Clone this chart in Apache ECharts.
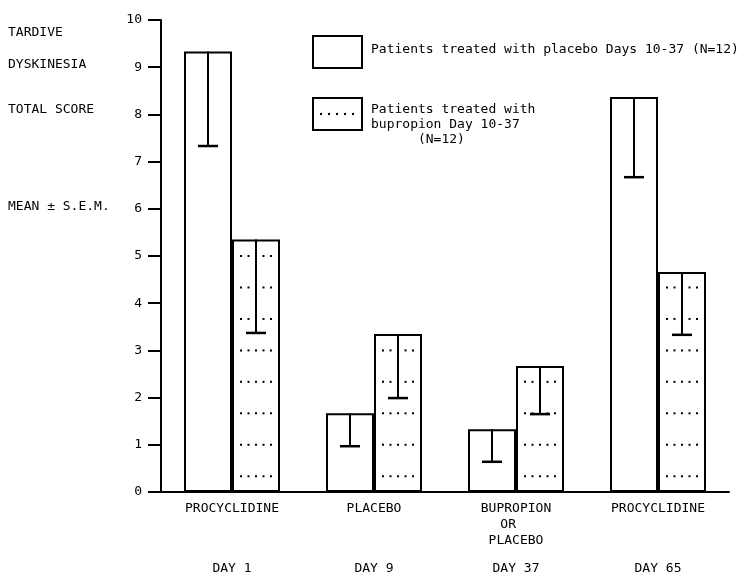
<!DOCTYPE html>
<html><head><meta charset="utf-8">
<script src="https://cdn.jsdelivr.net/npm/echarts@6/dist/echarts.min.js"></script>
<style>html,body{margin:0;padding:0;background:#fff}#c{width:742px;height:576px}</style>
</head><body><div id="c"></div>
<script>
// ---- data ----
const treatments = ['PROCYCLIDINE', 'PLACEBO', 'BUPROPION\nOR  \nPLACEBO', 'PROCYCLIDINE'];
const days = ['DAY 1', 'DAY 9', 'DAY 37', 'DAY 65'];
const placeboMean = [9.33, 1.67, 1.33, 8.37];
const placeboLow  = [7.33, 0.97, 0.64, 6.67];
const bupMean = [5.35, 3.35, 2.67, 4.66];
const bupLow  = [3.37, 1.99, 1.65, 3.33];
const yMin = 0, yMax = 10, yStep = 1;
const sideLabels = ['TARDIVE', 'DYSKINESIA', 'TOTAL SCORE', 'MEAN \u00B1 S.E.M.'];
const legendNames = ['Patients treated with placebo Days 10-37 (N=12)',
                     'Patients treated with\nbupropion Day 10-37\n      (N=12)'];

// ---- style ----
const FONT = 'DejaVu Sans Mono';
const FS = 13;
const BAR_W = 48;
const ink = '#000';

function errRender(offset, dotted) {
  return function (params, api) {
    const i = api.value(0), m = api.value(1), lo = api.value(2);
    const top = api.coord([i, m]);
    const bot = api.coord([i, lo]);
    const x = top[0] + offset;
    const children = [];
    if (dotted) {
      for (let k = 0; k < 30; k++) {
        const v = (2 * k + 1) / 3;
        if (v > m - 0.15) break;
        const y = api.coord([i, v])[1];
        [-15, -7.5, 0, 7.5, 15].forEach(function (dx, j) {
          if (j === 2 && v > lo) return;
          children.push({ type: 'rect', shape: { x: x + dx - 1, y: y - 1, width: 2, height: 2 }, style: { fill: ink } });
        });
      }
    }
    children.push({ type: 'line', shape: { x1: x, y1: top[1], x2: x, y2: bot[1] }, style: { stroke: ink, lineWidth: 2 } });
    children.push({ type: 'line', shape: { x1: x - 10, y1: bot[1], x2: x + 10, y2: bot[1] }, style: { stroke: ink, lineWidth: 2.5 } });
    return { type: 'group', children: children };
  };
}

const txt = { fontFamily: FONT, fontSize: FS, fill: ink };
const graphics = [];
const sideY = [34, 66, 111, 208];
sideLabels.forEach(function (s, i) {
  graphics.push({ type: 'text', left: 8, top: sideY[i] - 8, style: Object.assign({ text: s }, txt) });
});
// legend boxes
graphics.push({ type: 'rect', shape: { x: 313, y: 36, width: 49, height: 32 }, style: { fill: '#fff', stroke: ink, lineWidth: 2 } });
graphics.push({ type: 'text', x: 371, y: 50, style: Object.assign({ text: legendNames[0], verticalAlign: 'middle' }, txt) });
graphics.push({ type: 'rect', shape: { x: 313, y: 98, width: 49, height: 32 }, style: { fill: '#fff', stroke: ink, lineWidth: 2 } });
[321, 329, 337, 345, 353].forEach(function (dx) {
  graphics.push({ type: 'rect', shape: { x: dx - 1, y: 113, width: 2, height: 2 }, style: { fill: ink } });
});
graphics.push({ type: 'text', x: 371, y: 102, style: Object.assign({ text: legendNames[1], lineHeight: 15, verticalAlign: 'top' }, txt) });

const chart = echarts.init(document.getElementById('c'), null, { renderer: 'canvas' });
chart.setOption({
  animation: false,
  backgroundColor: '#fff',
  grid: { left: 161, right: 13, top: 20, bottom: 84, containLabel: false },
  xAxis: [{
    type: 'category', data: treatments, position: 'bottom',
    axisLine: { lineStyle: { color: ink, width: 2 } },
    axisTick: { show: false },
    axisLabel: { color: ink, fontFamily: FONT, fontSize: FS, lineHeight: 16, margin: 9 }
  }, {
    type: 'category', data: days, position: 'bottom', offset: 70,
    axisLine: { show: false }, axisTick: { show: false },
    axisLabel: { color: ink, fontFamily: FONT, fontSize: FS, margin: 0 }
  }],
  yAxis: {
    type: 'value', min: yMin, max: yMax, interval: yStep,
    axisLine: { show: true, lineStyle: { color: ink, width: 2 } },
    axisTick: { show: true, length: 13, lineStyle: { color: ink, width: 2 } },
    splitLine: { show: false },
    axisLabel: { color: ink, fontFamily: FONT, fontSize: FS, margin: 19 }
  },
  graphic: graphics,
  series: [
    { name: 'placebo', type: 'bar', data: placeboMean, barWidth: BAR_W, barGap: '0%',
      itemStyle: { color: '#fff', borderColor: ink, borderWidth: 2 } },
    { name: 'bupropion', type: 'bar', data: bupMean, barWidth: BAR_W, barGap: '0%',
      itemStyle: { color: '#fff', borderColor: ink, borderWidth: 2 } },
    { type: 'custom', z: 5, renderItem: errRender(-BAR_W / 2, false), encode: { x: 0, y: [1, 2] },
      data: placeboMean.map(function (m, i) { return [i, m, placeboLow[i]]; }) },
    { type: 'custom', z: 5, renderItem: errRender(BAR_W / 2, true), encode: { x: 0, y: [1, 2] },
      data: bupMean.map(function (m, i) { return [i, m, bupLow[i]]; }) }
  ]
});
</script></body></html>
